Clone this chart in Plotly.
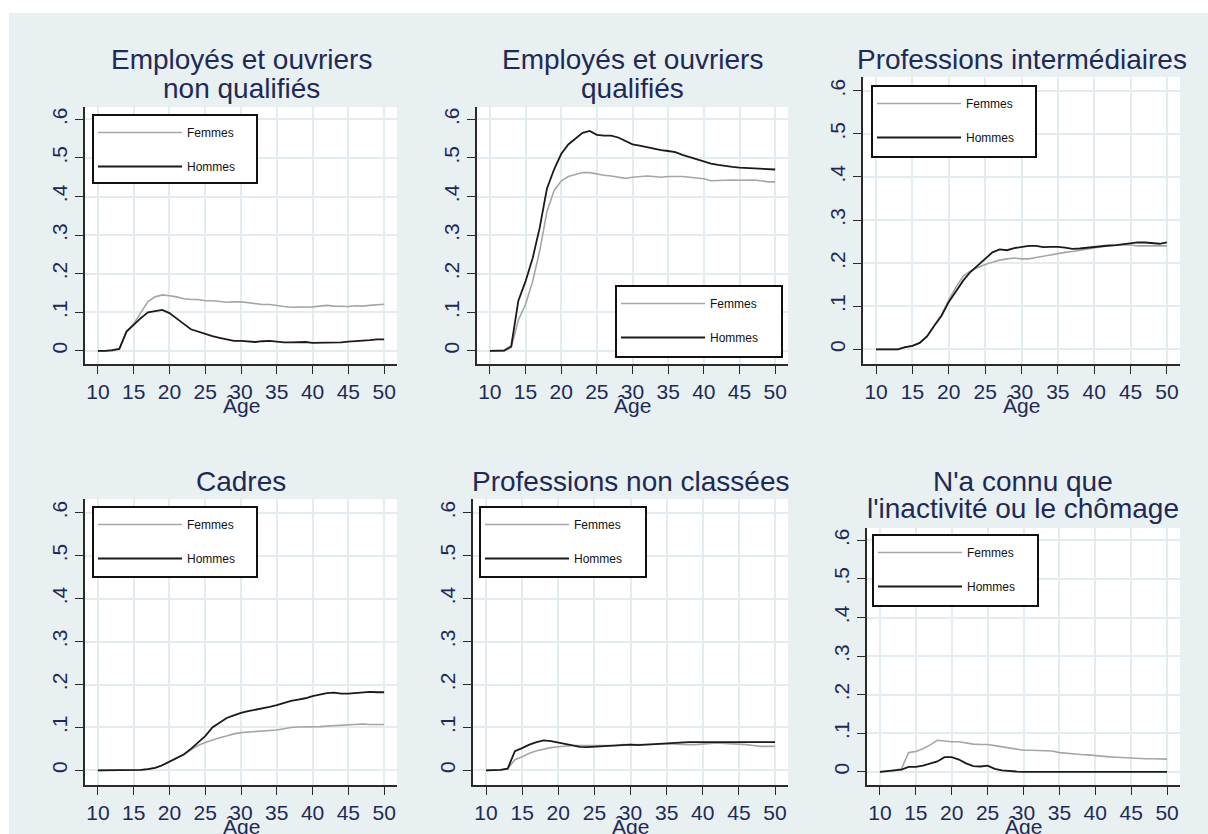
import plotly.graph_objects as go

W, H = 1208, 834

ages = list(range(10, 51))

titles = [
    ["Employés et ouvriers", "non qualifiés"],
    ["Employés et ouvriers", "qualifiés"],
    ["Professions intermédiaires"],
    ["Cadres"],
    ["Professions non classées"],
    ["N'a connu que", "l'inactivité ou le chômage"],
]

femmes_1 = [0, 0, 0, 0.005, 0.05, 0.07, 0.1, 0.128, 0.14, 0.145,
            0.143, 0.14, 0.135, 0.133, 0.133, 0.13, 0.13, 0.128, 0.126, 0.127,
            0.127, 0.125, 0.122, 0.12, 0.12, 0.117, 0.115, 0.113, 0.113, 0.113,
            0.114, 0.116, 0.118, 0.116, 0.115, 0.115, 0.117, 0.116, 0.118, 0.12, 0.121]
hommes_1 = [0, 0, 0.002, 0.005, 0.05, 0.068, 0.085, 0.1, 0.103, 0.106,
            0.098, 0.085, 0.07, 0.056, 0.05, 0.045, 0.038, 0.034, 0.03, 0.026,
            0.026, 0.025, 0.023, 0.025, 0.026, 0.024, 0.022, 0.022, 0.023, 0.023,
            0.021, 0.021, 0.021, 0.021, 0.022, 0.024, 0.025, 0.026, 0.028, 0.03, 0.03]

femmes_2 = [0, 0, 0, 0.008, 0.08, 0.12, 0.18, 0.26, 0.36, 0.415,
            0.44, 0.452, 0.458, 0.462, 0.462, 0.458, 0.455, 0.453, 0.45, 0.447,
            0.45, 0.452, 0.453, 0.452, 0.45, 0.452, 0.452, 0.452, 0.45, 0.448,
            0.446, 0.441, 0.442, 0.442, 0.443, 0.442, 0.442, 0.443, 0.441, 0.438, 0.438]
hommes_2 = [0, 0, 0.001, 0.012, 0.13, 0.18, 0.24, 0.32, 0.42, 0.47,
            0.51, 0.535, 0.55, 0.565, 0.57, 0.56, 0.558, 0.558, 0.553, 0.545,
            0.535, 0.532, 0.528, 0.524, 0.52, 0.518, 0.515, 0.508, 0.502, 0.497,
            0.49, 0.485, 0.482, 0.479, 0.477, 0.475, 0.474, 0.472, 0.471, 0.47, 0.47]

femmes_3 = [0, 0, 0, 0, 0.005, 0.008, 0.015, 0.03, 0.055, 0.08,
            0.115, 0.145, 0.17, 0.182, 0.19, 0.197, 0.202, 0.207, 0.21, 0.212,
            0.21, 0.21, 0.213, 0.216, 0.22, 0.222, 0.225, 0.227, 0.23, 0.232,
            0.235, 0.238, 0.24, 0.242, 0.243, 0.242, 0.24, 0.24, 0.24, 0.24, 0.24]
hommes_3 = [0, 0, 0, 0, 0.005, 0.008, 0.015, 0.03, 0.055, 0.078,
            0.11, 0.135, 0.16, 0.18, 0.195, 0.21, 0.225, 0.232, 0.23, 0.235,
            0.238, 0.24, 0.24, 0.237, 0.238, 0.238, 0.236, 0.233, 0.234, 0.236,
            0.238, 0.24, 0.241, 0.242, 0.244, 0.246, 0.248, 0.248, 0.246, 0.245, 0.248]

femmes_4 = [0, 0, 0, 0, 0, 0, 0.001, 0.003, 0.006, 0.012,
            0.02, 0.028, 0.037, 0.048, 0.058, 0.065, 0.071, 0.076, 0.08, 0.085,
            0.088, 0.089, 0.09, 0.091, 0.092, 0.094, 0.097, 0.1, 0.101, 0.101,
            0.101, 0.102, 0.103, 0.104, 0.105, 0.107, 0.108, 0.108, 0.107, 0.107, 0.107]
hommes_4 = [0, 0, 0, 0, 0, 0, 0.001, 0.003, 0.006, 0.012,
            0.02, 0.028, 0.037, 0.05, 0.065, 0.08, 0.1, 0.112, 0.122, 0.128,
            0.134, 0.138, 0.141, 0.144, 0.148, 0.152, 0.157, 0.162, 0.165, 0.168,
            0.173, 0.177, 0.18, 0.181, 0.179, 0.179, 0.18, 0.182, 0.183, 0.182, 0.182]

femmes_5 = [0, 0, 0.001, 0.004, 0.025, 0.032, 0.04, 0.046, 0.05, 0.053,
            0.055, 0.057, 0.058, 0.058, 0.058, 0.058, 0.058, 0.057, 0.058, 0.06,
            0.06, 0.06, 0.061, 0.061, 0.061, 0.062, 0.061, 0.06, 0.06, 0.06,
            0.061, 0.062, 0.064, 0.063, 0.062, 0.062, 0.06, 0.058, 0.056, 0.056, 0.056]
hommes_5 = [0, 0, 0.001, 0.004, 0.045, 0.052, 0.06, 0.066, 0.07, 0.068,
            0.065, 0.062, 0.058, 0.055, 0.054, 0.055, 0.056, 0.056, 0.057, 0.059,
            0.06, 0.059, 0.06, 0.062, 0.063, 0.063, 0.064, 0.065, 0.066, 0.066,
            0.066, 0.066, 0.066, 0.067, 0.067, 0.066, 0.066, 0.066, 0.066, 0.066, 0.066]

femmes_6 = [0, 0.002, 0.004, 0.008, 0.05, 0.053, 0.06, 0.07, 0.082, 0.08,
            0.078, 0.078, 0.075, 0.072, 0.071, 0.071, 0.068, 0.065, 0.063, 0.06,
            0.056, 0.056, 0.055, 0.055, 0.054, 0.05, 0.048, 0.046, 0.045, 0.044,
            0.042, 0.04, 0.039, 0.038, 0.037, 0.036, 0.034, 0.034, 0.034, 0.033, 0.033]
hommes_6 = [0, 0.002, 0.003, 0.006, 0.013, 0.013, 0.016, 0.022, 0.027, 0.038,
            0.038, 0.032, 0.022, 0.015, 0.014, 0.016, 0.008, 0.004, 0.002, 0.001,
            0, 0, 0, 0, 0, 0, 0, 0, 0, 0,
            0, 0, 0, 0, 0, 0, 0, 0, 0, 0, 0]

femmes = [femmes_1, femmes_2, femmes_3, femmes_4, femmes_5, femmes_6]
hommes = [hommes_1, hommes_2, hommes_3, hommes_4, hommes_5, hommes_6]

x_ticks = [10, 15, 20, 25, 30, 35, 40, 45, 50]
y_ticks = [0, 0.1, 0.2, 0.3, 0.4, 0.5, 0.6]
y_tick_labels = ["0", ".1", ".2", ".3", ".4", ".5", ".6"]
series_names = ["Femmes", "Hommes"]

# layout (page pixels)
panels = [  # x0, x1, y_top, y_bottom
    (85, 397, 107, 364),
    (477, 788, 107, 364),
    (863, 1180, 77, 364),
    (85, 397, 499, 785),
    (473, 788, 499, 785),
    (867, 1180, 528, 785),
]
title_pos = [  # center x, list of line baselines
    (241, [68, 97]),
    (632, [68, 97]),
    (1022, [68]),
    (241, [490]),
    (631, [490]),
    (1023, [490, 517]),
]
legend_box = [  # x0, y0, x1, y1
    (93, 115, 257, 183),
    (616, 286, 782, 357),
    (872, 86, 1036, 157),
    (93, 507, 257, 577),
    (480, 507, 646, 577),
    (873, 535, 1038, 606),
]

BG = "#E8F0F2"
GRID = "#E3ECEF"
NAVY = "#1E2A55"
FONT = "Arial, Liberation Sans, sans-serif"

def px(x):
    return x / W

def py(y):
    return 1 - y / H

fig = go.Figure()
layout = dict(
    width=W, height=H,
    margin=dict(l=0, r=0, t=0, b=0),
    paper_bgcolor=BG, plot_bgcolor="white",
    font=dict(family=FONT, color=NAVY),
    showlegend=True,
)
annotations = []
shapes = [
    dict(type="rect", xref="paper", yref="paper", x0=0, x1=1, y0=py(13), y1=1,
         fillcolor="white", line=dict(width=0), layer="below"),
    dict(type="rect", xref="paper", yref="paper", x0=0, x1=px(9), y0=0, y1=1,
         fillcolor="white", line=dict(width=0), layer="below"),
]

for i in range(6):
    k = i + 1
    xa = "x" if k == 1 else f"x{k}"
    ya = "y" if k == 1 else f"y{k}"
    leg = "legend" if k == 1 else f"legend{k}"
    x0, x1, yt, yb = panels[i]
    fig.add_trace(go.Scatter(x=ages, y=femmes[i], mode="lines", name=series_names[0],
                             line=dict(color="#A6A6A6", width=1.6), xaxis=xa, yaxis=ya,
                             legend=leg, legendgroup=f"f{k}"))
    fig.add_trace(go.Scatter(x=ages, y=hommes[i], mode="lines", name=series_names[1],
                             line=dict(color="#1A1A1A", width=1.8), xaxis=xa, yaxis=ya,
                             legend=leg, legendgroup=f"h{k}"))
    axcommon = dict(showline=True, linecolor="#2A2A2A", linewidth=1.6,
                    ticks="outside", ticklen=8, tickwidth=1.4, tickcolor="#2A2A2A",
                    showgrid=True, gridcolor=GRID, gridwidth=1.5, zeroline=False,
                    tickfont=dict(family=FONT, size=21, color=NAVY))
    xkey = "xaxis" if k == 1 else f"xaxis{k}"
    ykey = "yaxis" if k == 1 else f"yaxis{k}"
    xd = dict(axcommon)
    xd.update(domain=[px(x0), px(x1)], range=[8.2, 51.8], tickvals=x_ticks, anchor=ya)
    yd = dict(axcommon)
    yd.update(domain=[py(yb), py(yt)], range=[-0.034, 0.632], tickvals=y_ticks,
              ticktext=y_tick_labels, tickangle=-90, anchor=xa)
    layout[xkey] = xd
    layout[ykey] = yd

    # legend box (frame) + native legend drawn on top of it
    bx0, by0, bx1, by1 = legend_box[i]
    shapes.append(dict(type="rect", xref="paper", yref="paper",
                       x0=px(bx0), x1=px(bx1), y0=py(by1), y1=py(by0),
                       fillcolor="white", line=dict(color="#111111", width=2), layer="above"))
    layout[leg] = dict(x=px(bx0), y=py(by0 + 3), xanchor="left", yanchor="top",
                       xref="paper", yref="paper",
                       bgcolor="rgba(0,0,0,0)", borderwidth=0,
                       font=dict(family=FONT, size=12, color="#111111"),
                       itemwidth=84, tracegroupgap=15, traceorder="grouped",
                       itemclick=False, itemdoubleclick=False)

    cx, baselines = title_pos[i]
    for line_text, base in zip(titles[i], baselines):
        annotations.append(dict(text=line_text, x=px(cx), y=py(base - 9), xref="paper", yref="paper",
                                xanchor="center", yanchor="middle", showarrow=False,
                                font=dict(family=FONT, size=28, color=NAVY)))
    # x-axis title
    atitle_y = 405 if i < 3 else 826
    annotations.append(dict(text="Âge", x=px((x0 + x1) / 2), y=py(atitle_y), xref="paper", yref="paper",
                            xanchor="center", yanchor="middle", showarrow=False,
                            font=dict(family=FONT, size=21, color=NAVY)))

layout["annotations"] = annotations
layout["shapes"] = shapes
fig.update_layout(**layout)
fig.write_html("out.html", config={"displayModeBar": False},
               post_script="document.body.style.margin='0';document.body.style.overflow='hidden';")
